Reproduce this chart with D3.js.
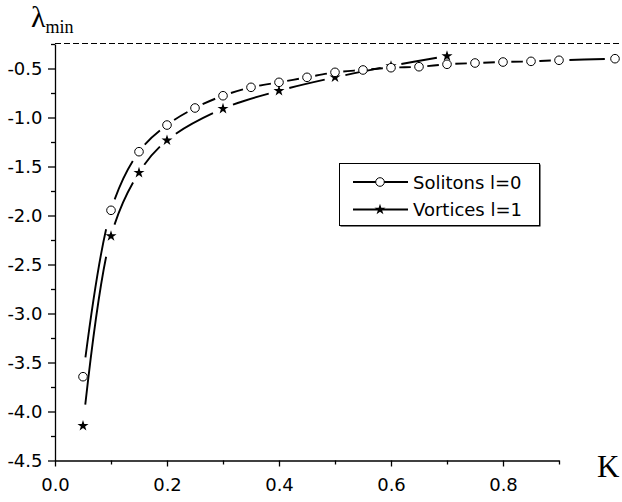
<!DOCTYPE html>
<html>
<head>
<meta charset="utf-8">
<script src="https://cdn.jsdelivr.net/npm/d3@7/dist/d3.min.js"></script>
<style>
  body { margin: 0; background: #fff; }
  svg { display: block; }
  text { font-family: "DejaVu Sans", sans-serif; }
</style>
</head>
<body>
<svg id="chart" width="622" height="502"></svg>
<script>

// data
var solitonK = [0.05, 0.1, 0.15, 0.2, 0.25, 0.3, 0.35, 0.4, 0.45, 0.5, 0.55, 0.6, 0.65, 0.7, 0.75, 0.8, 0.85, 0.9, 1.0];
var solitonL = [-3.645, -1.947, -1.349, -1.077, -0.903, -0.778, -0.692, -0.641, -0.590, -0.539, -0.515, -0.492, -0.482, -0.457, -0.444, -0.434, -0.427, -0.416, -0.400];

var vortexK = [0.05, 0.1, 0.15, 0.2, 0.3, 0.4, 0.5, 0.6, 0.7];
var vortexL = [-4.145, -2.209, -1.563, -1.233, -0.910, -0.727, -0.590, -0.474, -0.372];

var xMajor = [0, 0.2, 0.4, 0.6, 0.8];
var xMinor = [0.1, 0.3, 0.5, 0.7, 0.9];
var yMajor = [-4.5, -4.0, -3.5, -3.0, -2.5, -2.0, -1.5, -1.0, -0.5];
var yMinor = [-4.25, -3.75, -3.25, -2.75, -2.25, -1.75, -1.25, -0.75, -0.25];

var legendLabels = ["Solitons l=0", "Vortices l=1"];

var svg = d3.select("#chart");

var x = d3.scaleLinear().domain([0, 0.9]).range([55, 559]);
var y = d3.scaleLinear().domain([-4.5, -0.25]).range([460.5, 44]);

// dashed reference line at the top
svg.append("line")
	.attr("x1", 55).attr("x2", 622)
	.attr("y1", 43.5).attr("y2", 43.5)
	.attr("stroke", "#000")
	.attr("stroke-width", 1.2)
	.attr("stroke-dasharray", "6,3");

// axes
var axisX = svg.append("g").attr("transform", "translate(0," + y.range()[0] + ")");
axisX.call(d3.axisBottom(x).tickValues(xMajor).tickSize(6).tickSizeOuter(0).tickPadding(12)
	.tickFormat(function (d) { return d.toFixed(1); }));
axisX.append("g").call(d3.axisBottom(x).tickValues(xMinor).tickSize(4).tickSizeOuter(0).tickFormat(""))
	.select(".domain").remove();

var axisY = svg.append("g").attr("transform", "translate(" + x.range()[0] + ",0)");
axisY.call(d3.axisLeft(y).tickValues(yMajor).tickSize(7).tickSizeOuter(0).tickPadding(5.5)
	.tickFormat(function (d) { return d.toFixed(1); }));
axisY.append("g").call(d3.axisLeft(y).tickValues(yMinor).tickSize(4).tickSizeOuter(0).tickFormat(""))
	.select(".domain").remove();

svg.selectAll(".domain, .tick line").attr("stroke", "#000").attr("stroke-width", 1.3);
svg.selectAll(".tick text").attr("fill", "#000").style("font-size", "18px");

// axis titles
svg.append("text")
	.attr("x", 597).attr("y", 476.5)
	.style("font-family", "'Liberation Serif', serif")
	.style("font-size", "31px")
	.text("K");

var lam = svg.append("text")
	.attr("x", 31).attr("y", 26.5)
	.style("font-family", "'Liberation Serif', serif")
	.style("font-size", "30px");
lam.append("tspan").text("\u03bb");
lam.append("tspan").attr("dy", 6).style("font-size", "18px").text("min");

// curves with gaps around the markers
var line = d3.line()
	.x(function (d) { return x(d[0]); })
	.y(function (d) { return y(d[1]); })
	.curve(d3.curveCatmullRom.alpha(0.5));

function drawSeries(ks, ls) {
	var pts = ks.map(function (k, i) { return [k, ls[i]]; });
	var path = svg.append("path")
		.datum(pts)
		.attr("d", line)
		.attr("fill", "none")
		.attr("stroke", "#000")
		.attr("stroke-width", 1.9);

	var node = path.node();
	var total = node.getTotalLength();

	// length along the path at each vertex (x grows with length)
	var lens = pts.map(function (p) {
		var px = x(p[0]), lo = 0, hi = total;
		for (var it = 0; it < 40; it++) {
			var mid = (lo + hi) / 2;
			if (node.getPointAtLength(mid).x < px) lo = mid; else hi = mid;
		}
		return (lo + hi) / 2;
	});

	var dash = [0];
	for (var i = 0; i < lens.length - 1; i++) {
		var seg = lens[i + 1] - lens[i];
		var g = 6 + 0.08 * seg;
		var on = Math.max(seg - 2 * g, 0);
		if (i == 0) dash.push(g); else dash[dash.length - 1] += g;
		dash.push(on);
		dash.push(g);
	}
	dash[dash.length - 1] += 1000;
	path.attr("stroke-dasharray", dash.join(","));
	return pts;
}

var solitonPts = drawSeries(solitonK, solitonL);
var vortexPts = drawSeries(vortexK, vortexL);

var star = d3.symbol().type(d3.symbolStar).size(38);

svg.append("g").selectAll("path")
	.data(vortexPts)
	.enter().append("path")
	.attr("d", star)
	.attr("fill", "#000")
	.attr("transform", function (d) { return "translate(" + x(d[0]) + "," + y(d[1]) + ")"; });

svg.append("g").selectAll("circle")
	.data(solitonPts)
	.enter().append("circle")
	.attr("cx", function (d) { return x(d[0]); })
	.attr("cy", function (d) { return y(d[1]); })
	.attr("r", 4.3)
	.attr("fill", "#fff")
	.attr("stroke", "#000")
	.attr("stroke-width", 1);

// legend
var legend = svg.append("g");
legend.append("rect")
	.attr("x", 340.5).attr("y", 164.5).attr("width", 200).attr("height", 62)
	.attr("fill", "#000");
legend.append("rect")
	.attr("x", 339.5).attr("y", 163.5).attr("width", 200).attr("height", 62)
	.attr("fill", "#fff").attr("stroke", "#000").attr("stroke-width", 1);

var rows = [182, 209.5];
rows.forEach(function (ry, i) {
	legend.append("line")
		.attr("x1", 353).attr("x2", 408)
		.attr("y1", ry).attr("y2", ry)
		.attr("stroke", "#000").attr("stroke-width", 1.8);
	if (i == 0) {
		legend.append("circle")
			.attr("cx", 380).attr("cy", ry).attr("r", 4.3)
			.attr("fill", "#fff").attr("stroke", "#000");
	} else {
		legend.append("path")
			.attr("d", star)
			.attr("transform", "translate(380," + ry + ")");
	}
	legend.append("text")
		.attr("x", 413).attr("y", ry + 6.5)
		.style("font-size", "18px")
		.text(legendLabels[i]);
});

</script>
</body>
</html>
